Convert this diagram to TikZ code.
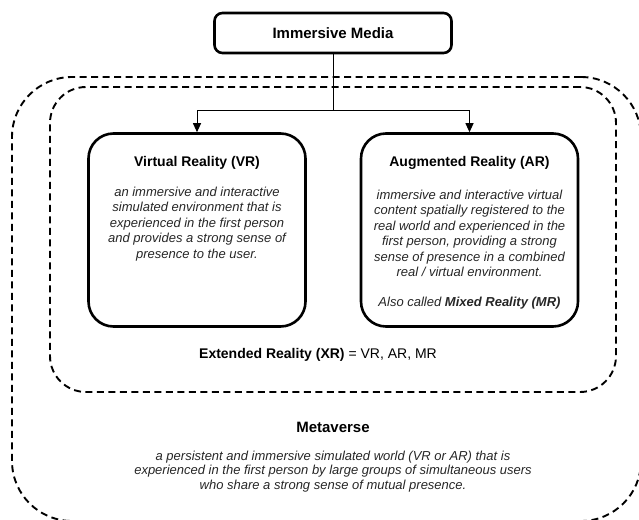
\documentclass[tikz,border=0pt]{standalone}
\usepackage{fontspec}
\setmainfont{Liberation Sans}
\usetikzlibrary{arrows.meta, positioning}

\tikzset{
    mediabox/.style={draw, line width=2.6pt, rounded corners=8pt, inner sep=0pt},
    realitybox/.style={draw, line width=2.6pt, rounded corners=25pt, inner sep=0pt,
        minimum width=217pt, minimum height=193pt},
    regionbox/.style={draw, line width=1.9pt, dash pattern=on 7pt off 4.5pt, inner sep=0pt},
    headtext/.style={inner sep=0pt, font=\fontsize{14}{17}\selectfont\bfseries},
    bigheadtext/.style={inner sep=0pt, font=\fontsize{15}{18}\selectfont\bfseries},
    bodytext/.style={inner sep=0pt, align=center, text=black!85,
        font=\fontsize{13}{15.5}\selectfont\itshape},
    feed/.style={line width=1pt, -{Triangle[width=8pt, length=9pt]}}
}

\begin{document}
\begin{tikzpicture}[x=1pt, y=-1pt]
        \useasboundingbox (0,0) rectangle (639,519);
        \clip (0,0) rectangle (639,519);

        % regions
        \node (metaverse) [regionbox, rounded corners=60pt, minimum width=629pt, minimum height=444pt] at (326.5,299) {};
        \node (xr) [regionbox, rounded corners=36pt, minimum width=566pt, minimum height=305pt] at (333,239.5) {};

        % boxes
        \node (media) [mediabox, minimum width=237pt, minimum height=40pt, bigheadtext] at (333,33) {};
        \node (medialabel) [bigheadtext] at (333,33) {Immersive Media};

        \node (vr) [realitybox] at (197,230) {};
        \node (ar) [realitybox] at (469.5,230) {};

        \node (vrtitle) [headtext] at (197,163) {Virtual Reality (VR)};
        \node (vrtext) [bodytext] at (197,224) {an immersive and interactive\\
            simulated environment that is\\
            experienced in the first person\\
            and provides a strong sense of\\
            presence to the user.};

        \node (artitle) [headtext] at (469.5,163) {Augmented Reality (AR)};
        \node (artext) [bodytext] at (469.5,233.5) {immersive and interactive virtual\\
            content spatially registered to the\\
            real world and experienced in the\\
            first person, providing a strong\\
            sense of presence in a combined\\
            real / virtual environment.};
        \node (aralso) [bodytext] at (469.5,303) {Also called \textbf{Mixed Reality (MR)}};

        \node (xrlabel) [inner sep=0pt, font=\fontsize{14}{17}\selectfont] at (318,355) {\textbf{Extended Reality (XR)} = VR, AR, MR};

        \node (mvtitle) [bigheadtext] at (333,427) {Metaverse};
        \node (mvtext) [bodytext, font=\fontsize{13}{14.5}\selectfont\itshape] at (333,471.5) {a persistent and immersive simulated world (VR or AR) that is\\
            experienced in the first person by large groups of simultaneous users\\
            who share a strong sense of mutual presence.};

        % connectors
        \coordinate (split) at (333,110);
        \draw [line width=1pt] (media.south) -- (split);
        \draw [feed] (split) -| (vr.north);
        \draw [feed] (split) -| (ar.north);
    \end{tikzpicture}
\end{document}
